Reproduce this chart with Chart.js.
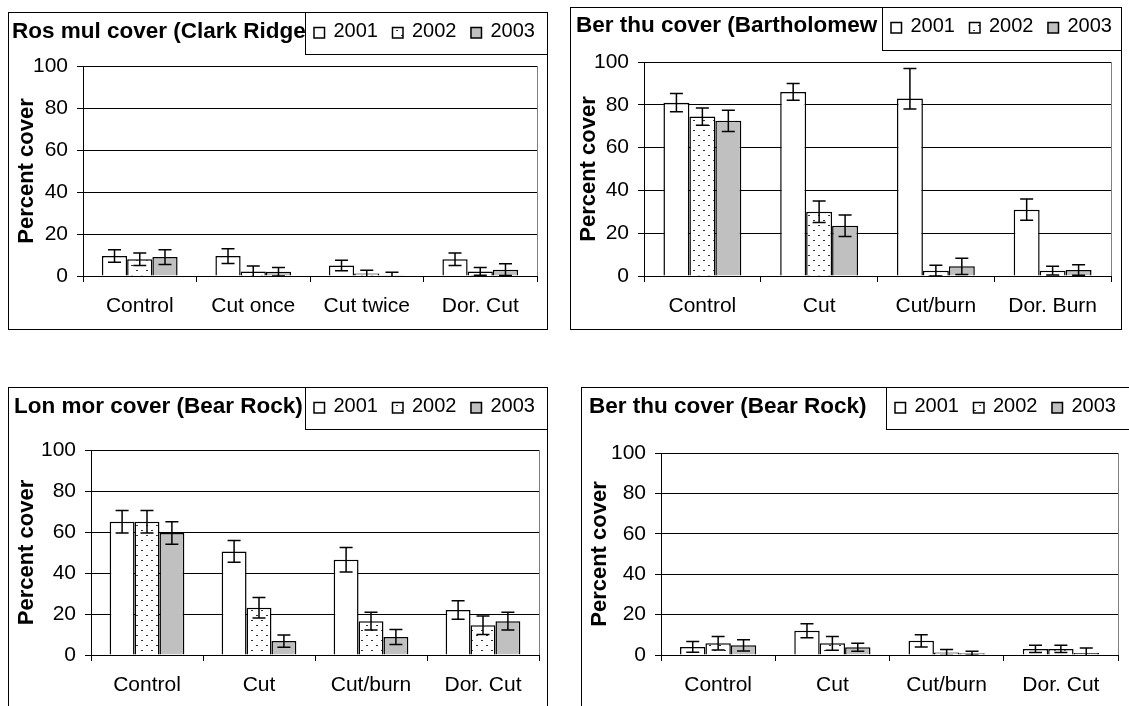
<!DOCTYPE html>
<html>
<head>
<meta charset="utf-8">
<script src="https://cdn.jsdelivr.net/npm/chart.js@4/dist/chart.umd.min.js"></script>
<style>
  html, body { margin: 0; padding: 0; background: #fff; width: 1129px; height: 706px; overflow: hidden; }
  .panel { position: absolute; border: 1px solid #000; background: #fff; }
  .panel canvas { display: block; }
</style>
</head>
<body>
<div class="panel" style="left:8px;top:12px"><canvas id="c1" width="538" height="316"></canvas></div>
<div class="panel" style="left:570px;top:7px"><canvas id="c2" width="550" height="321"></canvas></div>
<div class="panel" style="left:8px;top:387px"><canvas id="c3" width="538" height="330"></canvas></div>
<div class="panel" style="left:581px;top:387px"><canvas id="c4" width="560" height="330"></canvas></div>
<script>
const YEARS = ['2001', '2002', '2003'];
const Y_TICKS = [0, 20, 40, 60, 80, 100];

// Ros mul cover (Clark Ridge)
const CATS_CLARK = ['Control', 'Cut once', 'Cut twice', 'Dor. Cut'];
const ROS_2001 = [9.5, 9.5, 5, 8];
const ROS_2002 = [8, 2.2, 1.2, 2.2];
const ROS_2003 = [9, 2, 0.3, 3];
const ROS_ERR_2001 = [3, 3.5, 2.5, 3];
const ROS_ERR_2002 = [3, 2.6, 1.5, 1.8];
const ROS_ERR_2003 = [3.5, 2, 1.5, 2.8];

// Ber thu cover (Bartholomew...)
const CATS_BART = ['Control', 'Cut', 'Cut/burn', 'Dor. Burn'];
const BTB_2001 = [81, 86, 83, 31];
const BTB_2002 = [74.5, 30, 2.5, 2.5];
const BTB_2003 = [72.5, 23.5, 4.5, 2.8];
const BTB_ERR_2001 = [4.3, 3.9, 14, 5];
const BTB_ERRLOW_2001 = [4.3, 3.9, 5, 5];
const BTB_ERR_2002 = [4, 5, 2.5, 2];
const BTB_ERR_2003 = [5, 5, 3.8, 2.5];

// Lon mor cover (Bear Rock)
const CATS_BEAR = ['Control', 'Cut', 'Cut/burn', 'Dor. Cut'];
const LON_2001 = [65, 50.5, 46.5, 22];
const LON_2002 = [65, 23, 16.5, 14.5];
const LON_2003 = [59.5, 6.8, 8.8, 16.5];
const LON_ERR_2001 = [5.5, 5.3, 6, 4.5];
const LON_ERR_2002 = [5.5, 5, 4.3, 4.5];
const LON_ERR_2003 = [5.5, 3, 3.7, 4.3];

// Ber thu cover (Bear Rock)
const BTR_2001 = [4, 12, 7, 3];
const BTR_2002 = [5.8, 5.8, 1.2, 3];
const BTR_2003 = [4.8, 3.8, 0.9, 1];
const BTR_ERR_2001 = [2.7, 3.5, 3, 1.8];
const BTR_ERR_2002 = [3.3, 3.4, 1.5, 1.8];
const BTR_ERR_2003 = [2.8, 2, 1, 2.5];

const FONT = '"Liberation Sans", Arial, sans-serif';
Chart.defaults.font.family = FONT;
Chart.defaults.color = '#000';

// sparse dot fill used for 2002
function dotPattern() {
  const c = document.createElement('canvas');
  c.width = 10;
  c.height = 10;
  const g = c.getContext('2d');
  g.fillStyle = '#fff';
  g.fillRect(0, 0, 10, 10);
  g.fillStyle = '#333';
  g.fillRect(2, 2, 2, 1);
  g.fillRect(7, 7, 2, 1);
  return g.createPattern(c, 'repeat');
}
const FILLS = ['#ffffff', dotPattern(), '#c0c0c0'];

const PANELS = [
  {
    id: 'c1', title: 'Ros mul cover (Clark Ridge)', cats: CATS_CLARK,
    vals: [ROS_2001, ROS_2002, ROS_2003], errs: [ROS_ERR_2001, ROS_ERR_2002, ROS_ERR_2003], errsLow: [],
    area: { left: 74, right: 528, top: 53, bottom: 263 },
    legend: { left: 296, bottom: 41, mid: 18 }, titleAt: [3, 25],
  },
  {
    id: 'c2', title: 'Ber thu cover (Bartholomew', cats: CATS_BART,
    vals: [BTB_2001, BTB_2002, BTB_2003], errs: [BTB_ERR_2001, BTB_ERR_2002, BTB_ERR_2003], errsLow: [BTB_ERRLOW_2001],
    area: { left: 73, right: 540, top: 54, bottom: 268 },
    legend: { left: 311, bottom: 42, mid: 18 }, titleAt: [5, 24],
  },
  {
    id: 'c3', title: 'Lon mor cover (Bear Rock)', cats: CATS_BEAR,
    vals: [LON_2001, LON_2002, LON_2003], errs: [LON_ERR_2001, LON_ERR_2002, LON_ERR_2003], errsLow: [],
    area: { left: 82, right: 530, top: 62, bottom: 267 },
    legend: { left: 296, bottom: 41, mid: 18 }, titleAt: [5, 25],
  },
  {
    id: 'c4', title: 'Ber thu cover (Bear Rock)', cats: CATS_BEAR,
    vals: [BTR_2001, BTR_2002, BTR_2003], errs: [BTR_ERR_2001, BTR_ERR_2002, BTR_ERR_2003], errsLow: [],
    area: { left: 79, right: 536, top: 65, bottom: 267 },
    legend: { left: 304, bottom: 41, mid: 18 }, titleAt: [7, 25],
  },
];

const errorBars = {
  id: 'errorBars',
  afterDatasetsDraw(chart) {
    const { ctx, chartArea } = chart;
    const y = chart.scales.y;
    ctx.save();
    ctx.beginPath();
    ctx.rect(chartArea.left, chartArea.top - 2, chartArea.width, chartArea.height + 2);
    ctx.clip();
    ctx.strokeStyle = '#000';
    ctx.lineWidth = 1.5;
    chart.data.datasets.forEach((ds, i) => {
      chart.getDatasetMeta(i).data.forEach((bar, j) => {
        const v = ds.data[j];
        const up = ds.errUp[j];
        const lo = ds.errLow ? ds.errLow[j] : up;
        const yt = y.getPixelForValue(v + up);
        const yb = y.getPixelForValue(v - lo);
        ctx.beginPath();
        ctx.moveTo(bar.x, yt); ctx.lineTo(bar.x, yb);
        ctx.moveTo(bar.x - 6.5, yt); ctx.lineTo(bar.x + 6.5, yt);
        ctx.moveTo(bar.x - 6.5, yb); ctx.lineTo(bar.x + 6.5, yb);
        ctx.stroke();
      });
    });
    ctx.restore();
  },
};

const frame = {
  id: 'frame',
  afterDraw(chart, args, opts) {
    const { ctx, chartArea, width } = chart;
    ctx.save();
    // right edge of plot area
    ctx.strokeStyle = '#808080';
    ctx.lineWidth = 1;
    ctx.beginPath();
    ctx.moveTo(Math.round(chartArea.right) + 0.5, chartArea.top);
    ctx.lineTo(Math.round(chartArea.right) + 0.5, chartArea.bottom);
    ctx.stroke();

    // title, partly hidden under the legend box
    ctx.fillStyle = '#000';
    ctx.font = 'bold 22.5px ' + FONT;
    ctx.textBaseline = 'alphabetic';
    ctx.fillText(opts.title, opts.titleAt[0], opts.titleAt[1]);

    const lg = opts.legend;
    ctx.fillStyle = '#fff';
    ctx.fillRect(lg.left, 0, width - lg.left, lg.bottom);
    ctx.strokeStyle = '#000';
    ctx.strokeRect(lg.left + 0.5, -1, width, lg.bottom + 1.5);

    ctx.font = '20px ' + FONT;
    ctx.textBaseline = 'middle';
    ctx.lineWidth = 1.5;
    let x = lg.left + 8.5;
    chart.data.datasets.forEach((ds) => {
      ctx.fillStyle = ds.backgroundColor;
      ctx.fillRect(x, lg.mid - 4, 11, 11);
      ctx.strokeRect(x + 0.5, lg.mid - 3.5, 10.5, 10.5);
      ctx.fillStyle = '#000';
      ctx.fillText(ds.label, x + 20, lg.mid);
      x += 20 + ctx.measureText(ds.label).width + 14;
    });
    ctx.restore();
  },
};

PANELS.forEach((p) => {
  const canvas = document.getElementById(p.id);
  const W = canvas.width;
  const H = canvas.height;
  new Chart(canvas, {
    type: 'bar',
    data: {
      labels: p.cats,
      datasets: YEARS.map((yr, i) => ({
        label: yr,
        data: p.vals[i],
        errUp: p.errs[i],
        errLow: p.errsLow[i],
        backgroundColor: FILLS[i],
        borderColor: '#000',
        borderWidth: 1.5,
        barPercentage: 1,
        categoryPercentage: 0.667,
      })),
    },
    options: {
      responsive: false,
      animation: false,
      devicePixelRatio: 1,
      layout: { padding: { left: 2, right: W - p.area.right, top: p.area.top, bottom: 0 } },
      plugins: {
        legend: { display: false },
        tooltip: { enabled: false },
        frame: { title: p.title, titleAt: p.titleAt, legend: p.legend },
      },
      scales: {
        x: {
          grid: { offset: true, drawOnChartArea: false, drawTicks: true, tickLength: 6, color: '#000' },
          border: { color: '#000', width: 1 },
          ticks: { font: { size: 21 }, padding: 12, color: '#000' },
          afterFit(s) { s.height = H - p.area.bottom; },
        },
        y: {
          min: 0,
          max: 100,
          afterBuildTicks(s) { s.ticks = Y_TICKS.map((v) => ({ value: v })); },
          grid: { color: '#000', lineWidth: 1, tickLength: 6 },
          border: { color: '#000', width: 1 },
          ticks: { font: { size: 21 }, padding: 9, color: '#000' },
          title: { display: true, text: 'Percent cover', font: { size: 22, weight: 'bold' }, padding: { top: 3, bottom: 0 }, color: '#000' },
          afterFit(s) { s.width = p.area.left - 2; },
        },
      },
    },
    plugins: [errorBars, frame],
  });
});
</script>
</body>
</html>
